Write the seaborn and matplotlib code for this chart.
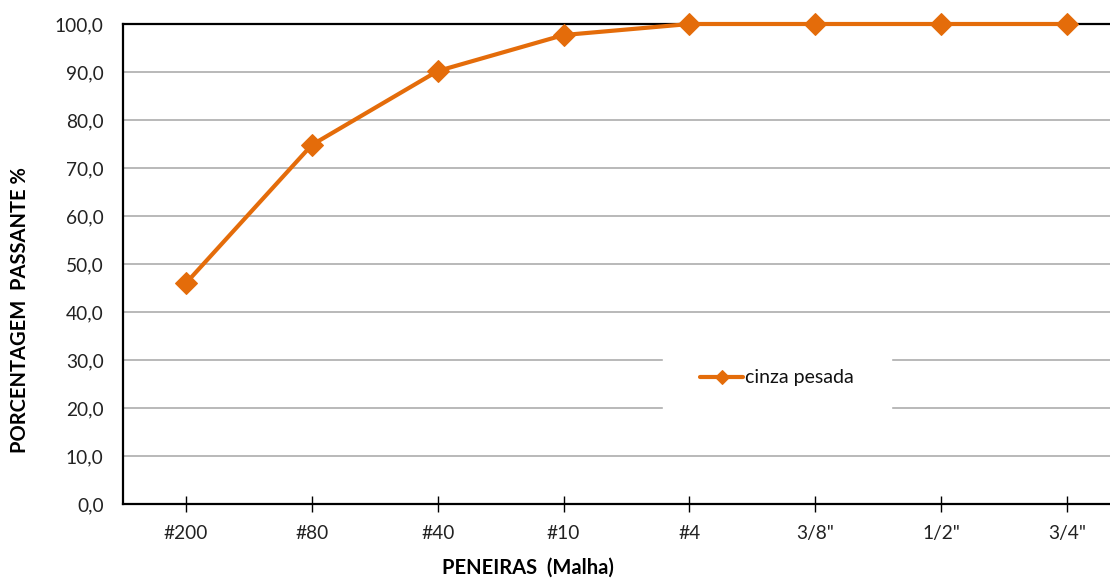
import matplotlib
matplotlib.use("Agg")
import matplotlib.pyplot as plt
import seaborn as sns
import pandas as pd

peneiras = ["#200", "#80", "#40", "#10", "#4", '3/8"', '1/2"', '3/4"']
passante = [46.0, 74.8, 90.2, 97.7, 100.0, 100.0, 100.0, 100.0]
y_ticks = [0, 10, 20, 30, 40, 50, 60, 70, 80, 90, 100]
serie = "cinza pesada"

sns.set_theme(style="white")
plt.rcParams["font.family"] = ["Lato", "DejaVu Sans"]

W, H = 1110, 579
fig = plt.figure(figsize=(W / 100, H / 100), dpi=100)
# plot area: left 123px, right 1130px (cropped beyond image), top 24px, bottom 504px
ax = fig.add_axes([123 / W, (H - 504) / H, (1130 - 123) / W, (504 - 24) / H])

df = pd.DataFrame({"peneira": peneiras, "passante": passante})
sns.lineplot(data=df, x="peneira", y="passante", sort=False, ax=ax,
             color="#E46C0A", linewidth=3, marker="D", markersize=11.5,
             markeredgecolor="#E46C0A", label=serie, zorder=5, clip_on=False)

ax.set_xlim(-0.5, len(peneiras) - 0.5)
ax.set_ylim(0, 100)
ax.set_yticks(y_ticks)
ax.set_yticklabels([f"{v:.1f}".replace(".", ",") for v in y_ticks])
ax.set_xticks(range(len(peneiras)))
ax.set_xticklabels(peneiras)

ax.yaxis.grid(True, color="#A6A6A6", linewidth=1.1)
ax.xaxis.grid(False)
ax.set_axisbelow(True)
for s in ax.spines.values():
    s.set_visible(True)
    s.set_color("black")
    s.set_linewidth(1.6)

ax.tick_params(axis="y", length=0, pad=14, labelsize=13.8, labelcolor="#222222")
ax.tick_params(axis="x", direction="inout", length=12, width=1, color="black",
               pad=9, labelsize=13.8, labelcolor="#222222", bottom=True)

ax.set_xlabel("PENEIRAS  (Malha)", fontsize=14.5, fontweight="bold", color="black")
ax.xaxis.set_label_coords((528 - 123) / (1130 - 123), -0.112)
ax.set_ylabel("PORCENTAGEM  PASSANTE %", fontsize=14.5, fontweight="bold", color="black")
ax.yaxis.set_label_coords(-0.092, (504 - 310) / 480)

leg = ax.legend(loc="center", bbox_to_anchor=((777 - 123) / (1130 - 123), (504 - 378) / 480),
                frameon=True, facecolor="white", edgecolor="white", framealpha=1,
                fontsize=14, handlelength=2.2, handletextpad=0.1, borderpad=1.9,
                markerscale=0.6, fancybox=False)
for t in leg.get_texts():
    t.set_color("#111111")

fig.savefig("out.png", dpi=100)
